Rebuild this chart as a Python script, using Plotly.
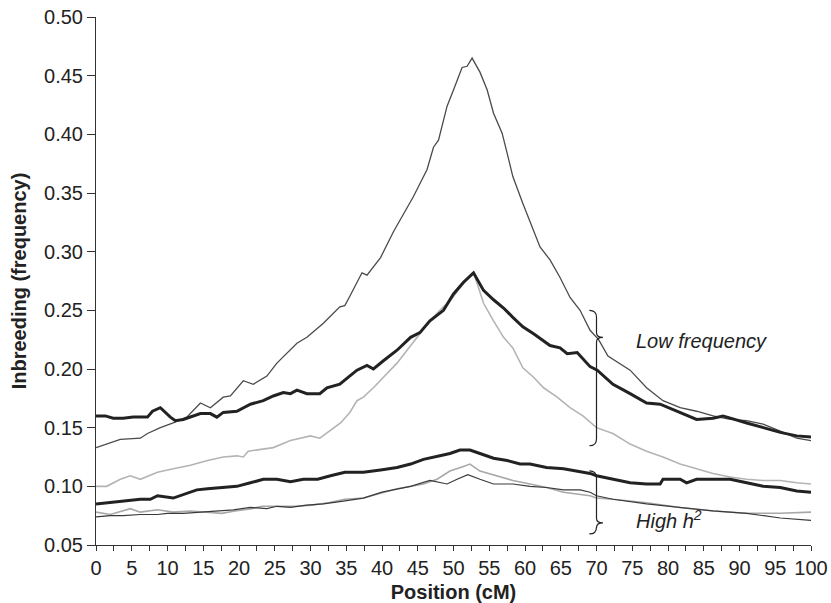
import plotly.graph_objects as go

# ---- data (position in cM, inbreeding frequency) ----
a_x = [0, 3.4, 6.2, 7.2, 9, 10.8, 12.7, 14.6, 16, 17.8, 18.8, 20.6, 22, 23.9, 25.3, 27.2, 28.1, 29.5,
       31.8, 34.1, 34.8, 35.5, 37.2, 37.9, 39.8, 41.6, 44.4, 46.3, 47.2, 47.9, 49.1, 50.2, 51.2, 51.9,
       52.6, 53.7, 54.7, 55.6, 56.8, 57.5, 58.3, 59.7, 61, 62.1, 63.5, 64.9, 66.3, 67.7, 69.1, 70.3,
       71.6, 72.6, 74.7, 77, 79.3, 81.7, 84, 86.3, 88.7, 91, 93.3, 95.7, 98, 100]
a_y = [0.133, 0.140, 0.141, 0.145, 0.150, 0.154, 0.159, 0.171, 0.167, 0.176, 0.177, 0.190, 0.187, 0.194,
       0.205, 0.216, 0.222, 0.227, 0.239, 0.253, 0.254, 0.262, 0.282, 0.280, 0.295, 0.317, 0.347, 0.370,
       0.389, 0.395, 0.424, 0.441, 0.457, 0.458, 0.465, 0.453, 0.438, 0.418, 0.401, 0.384, 0.364, 0.341,
       0.321, 0.304, 0.293, 0.278, 0.261, 0.250, 0.233, 0.225, 0.211, 0.207, 0.199, 0.184, 0.173, 0.167,
       0.164, 0.160, 0.157, 0.156, 0.153, 0.147, 0.141, 0.139]

b_x = [0, 1.3, 2.4, 3.8, 5.2, 7.2, 7.9, 9, 10.4, 11.1, 12.2, 14.6, 16, 16.9, 17.8, 19.7, 21.6, 23.4,
       24.8, 26.2, 27.2, 28.1, 29.5, 31.3, 32.3, 34.1, 35.3, 36.5, 37.9, 38.8, 40.2, 42.1, 44, 45.3,
       46.7, 48.6, 50, 51.4, 52.8, 54.2, 55.6, 57, 58.3, 59.7, 61.2, 62.6, 63.5, 64.9, 65.9, 67.3, 69.1,
       70.1, 72.3, 74.7, 77, 78.9, 81.7, 84, 86.3, 87.7, 91, 93.3, 95.7, 98, 100]
b_y = [0.160, 0.160, 0.158, 0.158, 0.159, 0.159, 0.164, 0.167, 0.159, 0.156, 0.157, 0.162, 0.162, 0.159,
       0.163, 0.164, 0.170, 0.173, 0.177, 0.180, 0.179, 0.182, 0.179, 0.179, 0.184, 0.187, 0.193, 0.199,
       0.203, 0.200, 0.207, 0.216, 0.227, 0.231, 0.241, 0.250, 0.264, 0.274, 0.282, 0.267, 0.259, 0.252,
       0.244, 0.236, 0.230, 0.224, 0.220, 0.218, 0.213, 0.214, 0.202, 0.199, 0.187, 0.179, 0.171, 0.170,
       0.163, 0.157, 0.158, 0.160, 0.154, 0.150, 0.146, 0.143, 0.142]

c_x = [0, 1.5, 3.4, 4.8, 6.2, 8.6, 10.8, 13.2, 15.6, 17.8, 19.7, 20.6, 21.3, 23.4, 24.8, 27.2, 28.6, 30,
       31.3, 32.8, 34.2, 35.5, 36.5, 37.4, 38.8, 40.2, 42.1, 43.5, 45.3, 46.7, 48.1, 49.5, 51.4, 52.8,
       53.3, 54.2, 55.6, 57, 58.3, 59.7, 61.2, 62.6, 64.5, 66.3, 68.1, 69.1, 70, 72.3, 74.7, 77, 79.3,
       81.7, 84, 86.3, 88.7, 91, 93.3, 95.7, 98, 100]
c_y = [0.100, 0.100, 0.106, 0.109, 0.106, 0.112, 0.115, 0.118, 0.122, 0.125, 0.126, 0.125, 0.130, 0.132,
       0.133, 0.139, 0.141, 0.143, 0.141, 0.148, 0.154, 0.163, 0.173, 0.176, 0.184, 0.193, 0.205, 0.216,
       0.230, 0.241, 0.250, 0.258, 0.273, 0.282, 0.273, 0.256, 0.241, 0.227, 0.218, 0.201, 0.193, 0.184,
       0.176, 0.167, 0.160, 0.155, 0.150, 0.145, 0.136, 0.130, 0.125, 0.119, 0.115, 0.111, 0.108, 0.106,
       0.105, 0.105, 0.103, 0.102]

d_x = [0, 1.5, 3.8, 6.2, 7.6, 8.6, 10.8, 12.2, 14.1, 15.6, 17.8, 19.7, 21.6, 23.4, 25.3, 27.2, 29, 31,
       32.8, 34.8, 35.5, 37.4, 39.8, 42.1, 44, 45.8, 48.1, 49.5, 50.9, 52.3, 53.7, 55.6, 57.5, 59.3, 60.7,
       63, 65.4, 67.3, 69.1, 70, 72.3, 74.7, 77, 78.9, 79.3, 81.7, 82.6, 84, 86.3, 88.7, 91, 93.3, 95.7,
       98, 100]
d_y = [0.085, 0.086, 0.088, 0.089, 0.089, 0.092, 0.090, 0.093, 0.097, 0.098, 0.099, 0.100, 0.103, 0.106,
       0.106, 0.104, 0.106, 0.106, 0.109, 0.112, 0.112, 0.112, 0.114, 0.116, 0.119, 0.123, 0.126, 0.128,
       0.131, 0.131, 0.128, 0.124, 0.122, 0.119, 0.119, 0.116, 0.115, 0.113, 0.111, 0.109, 0.106, 0.103,
       0.102, 0.102, 0.106, 0.106, 0.103, 0.106, 0.106, 0.106, 0.103, 0.100, 0.099, 0.096, 0.095]

e_x = [0, 2, 4.8, 6.2, 8.6, 10.8, 13.2, 15.6, 17.6, 19.4, 21.8, 23.2, 26, 27.8, 30.2, 32.5, 34.8, 37.4,
       42.1, 45.8, 47.7, 49.5, 51.4, 52.3, 53.7, 56.1, 58.3, 60.7, 63, 65.4, 69.1, 70, 72.3, 77, 81.7,
       86.3, 91, 95.7, 100]
e_y = [0.078, 0.076, 0.081, 0.078, 0.080, 0.078, 0.079, 0.078, 0.077, 0.079, 0.081, 0.083, 0.083, 0.083,
       0.084, 0.086, 0.089, 0.090, 0.098, 0.102, 0.106, 0.113, 0.117, 0.119, 0.113, 0.109, 0.105, 0.102,
       0.099, 0.095, 0.092, 0.090, 0.089, 0.086, 0.082, 0.079, 0.077, 0.077, 0.078]

f_x = [0, 2, 3.8, 6.2, 8.6, 10, 12.2, 14.6, 17, 19.2, 21.6, 23.9, 25.3, 27.2, 29.5, 31.8, 34.1, 37.4, 40,
       44, 46.7, 49.1, 50.5, 52, 53.7, 55.6, 58.3, 60.7, 63, 65.4, 67.7, 69.1, 70, 72.3, 77, 81.7, 86.3,
       91, 95.7, 100]
f_y = [0.074, 0.075, 0.075, 0.076, 0.076, 0.077, 0.077, 0.078, 0.079, 0.080, 0.082, 0.081, 0.083, 0.082,
       0.084, 0.085, 0.087, 0.090, 0.095, 0.100, 0.105, 0.102, 0.106, 0.110, 0.106, 0.102, 0.102, 0.100,
       0.099, 0.097, 0.097, 0.095, 0.092, 0.089, 0.085, 0.082, 0.079, 0.077, 0.073, 0.071]

x_ticks = list(range(0, 101, 5))
y_ticks = [0.05, 0.10, 0.15, 0.20, 0.25, 0.30, 0.35, 0.40, 0.45, 0.50]
y_ticktext = ["0.05", "0.10", "0.15", "0.20", "0.25", "0.30", "0.35", "0.40", "0.45", "0.50"]

FONT = "Liberation Sans, Arial, Helvetica, sans-serif"
AX = "#333333"

fig = go.Figure()
series = [
    (c_x, c_y, "#b4b4b4", 1.6),
    (e_x, e_y, "#a8a8a8", 1.6),
    (a_x, a_y, "#4a4a4a", 1.3),
    (f_x, f_y, "#3a3a3a", 1.2),
    (b_x, b_y, "#222222", 3.0),
    (d_x, d_y, "#222222", 3.0),
]
for xs, ys, col, w in series:
    fig.add_trace(go.Scatter(x=xs, y=ys, mode="lines", line=dict(color=col, width=w),
                             hoverinfo="skip", showlegend=False))

# braces
brace_col = "#222222"
def brace(top, tip, bot):
    return (f"M 69.0,{top} Q 70.0,{top} 70.0,{top-0.006} L 70.0,{tip+0.004} "
            f"Q 70.0,{tip} 70.9,{tip} Q 70.0,{tip} 70.0,{tip-0.004} "
            f"L 70.0,{bot+0.006} Q 70.0,{bot} 69.0,{bot}")

fig.add_shape(type="path", path=brace(0.250, 0.2269, 0.1346), xref="x", yref="y",
              line=dict(color=brace_col, width=1.2))
fig.add_shape(type="path", path=brace(0.1132, 0.0688, 0.0594), xref="x", yref="y",
              line=dict(color=brace_col, width=1.2))

fig.add_annotation(x=75.3, y=0.2235, xref="x", yref="y", text="<i>Low frequency</i>",
                   showarrow=False, xanchor="left", yanchor="middle",
                   font=dict(family=FONT, size=20, color="#222222"))
fig.add_annotation(x=75.3, y=0.0715, xref="x", yref="y", text="<i>High h<sup>2</sup></i>",
                   showarrow=False, xanchor="left", yanchor="middle",
                   font=dict(family=FONT, size=20, color="#222222"))

fig.update_layout(
    width=831, height=603,
    margin=dict(l=96, r=20, t=17, b=58),
    paper_bgcolor="white", plot_bgcolor="white",
    font=dict(family=FONT, size=20, color="#222222"),
    xaxis=dict(range=[0, 100], tickmode="array", tickvals=x_ticks, ticktext=[str(t) for t in x_ticks],
               showgrid=False, zeroline=False, showline=True, linecolor=AX, linewidth=1,
               ticks="outside", ticklen=5, tickcolor=AX, tickwidth=1,
               minor=dict(dtick=2.5, tick0=0, ticks="outside", ticklen=5, tickcolor=AX, showgrid=False),
               tickfont=dict(size=20), automargin=False,
               title=dict(text="<b>Position (cM)</b>", font=dict(size=20), standoff=6)),
    yaxis=dict(range=[0.05, 0.50], tickmode="array", tickvals=y_ticks, ticktext=y_ticktext,
               showgrid=False, zeroline=False, showline=True, linecolor=AX, linewidth=1,
               ticks="outside", ticklen=8, tickcolor=AX, tickwidth=1,
               tickfont=dict(size=20), automargin=False,
               title=dict(text="<b>Inbreeding (frequency)</b>", font=dict(size=20), standoff=12)),
)

fig.write_html("out.html", config={"displayModeBar": False},
               post_script="document.body.style.margin='0';document.body.style.padding='0';")
